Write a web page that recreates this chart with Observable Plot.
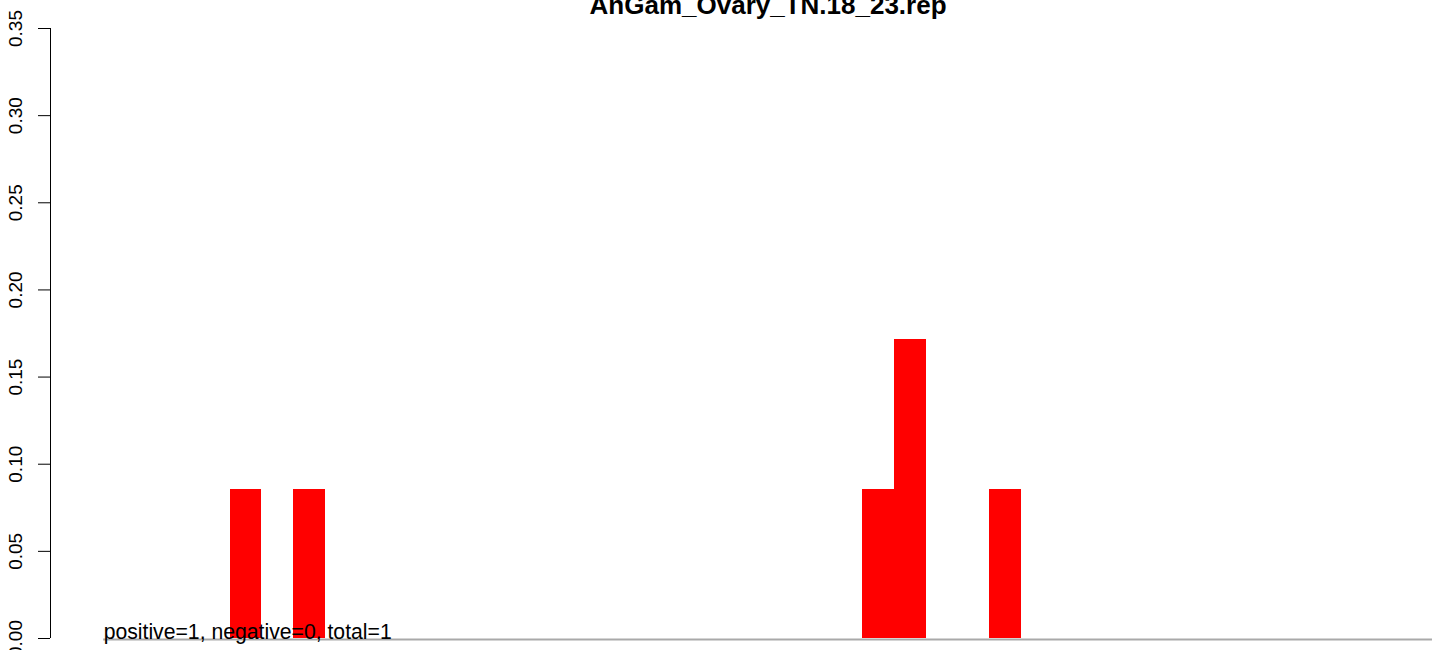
<!DOCTYPE html>
<html>
<head>
<meta charset="utf-8">
<script src="https://cdn.jsdelivr.net/npm/d3@7"></script>
<script src="https://cdn.jsdelivr.net/npm/@observablehq/plot@0.6"></script>
<style>
  html, body { margin: 0; padding: 0; background: #fff; }
  #chart svg { display: block; }
</style>
</head>
<body>
<div id="chart"></div>
<script>
const title = "AnGam_Ovary_TN.18_23.rep";
const note = "positive=1, negative=0, total=1";
const bins = [0,1,2,3,4,5,6,7,8,9,10,11,12,13,14,15,16,17,18,19,20,
              21,22,23,24,25,26,27,28,29,30,31,32,33,34,35,36,37,38,39,40,41];
const values = [0,0,0,0,0.0857,0,0.0857,0,0,0,0,0,0,0,0,0,0,0,0,0,0,
                0,0,0,0.0857,0.1714,0,0,0.0857,0,0,0,0,0,0,0,0,0,0,0,0,0];
const yTicks = [0, 0.05, 0.10, 0.15, 0.20, 0.25, 0.30, 0.35];
const xDomain = [-1.68, 42.38];
const xCenter = 21;

const data = bins.map((b, i) => ({bin: b, value: values[i]}));
const font = "Liberation Sans, Arial, Helvetica, sans-serif";

const chart = Plot.plot({
  width: 1444,
  height: 650,
  marginLeft: 50,
  marginRight: 0,
  marginTop: 28,
  marginBottom: 12,
  style: {fontFamily: font, background: "#fff", overflow: "hidden"},
  x: {type: "linear", domain: xDomain, axis: null},
  y: {domain: [0, 0.35], axis: null, label: null},
  marks: [
    Plot.rectY(data, {x1: "bin", x2: d => d.bin + 1, y: "value", fill: "#ff0000", inset: 0,
                      shapeRendering: "crispEdges"}),
    Plot.ruleY([0], {x1: bins[0], x2: bins[bins.length - 1] + 1, stroke: "#a9a9a9", strokeWidth: 2, dy: 1}),
    Plot.ruleX([xDomain[0]], {y1: 0, y2: 0.35, stroke: "#000", strokeWidth: 1}),
    Plot.axisY({ticks: yTicks, tickFormat: d3.format(".2f"), tickSize: 12, tickPadding: 17,
                tickRotate: -90, fontSize: 19, stroke: "#000", fill: "#000", label: null}),
    Plot.text([note], {x: bins[0], y: 0, text: d => d, textAnchor: "start", lineAnchor: "bottom",
                       fontSize: 21.2, fill: "#000"}),
    Plot.text([title], {x: xCenter, frameAnchor: "top", text: d => d, dy: -33, lineAnchor: "top",
                        fontSize: 26, fontWeight: "bold", fill: "#000"})
  ]
});
document.getElementById("chart").appendChild(chart);
</script>
</body>
</html>
